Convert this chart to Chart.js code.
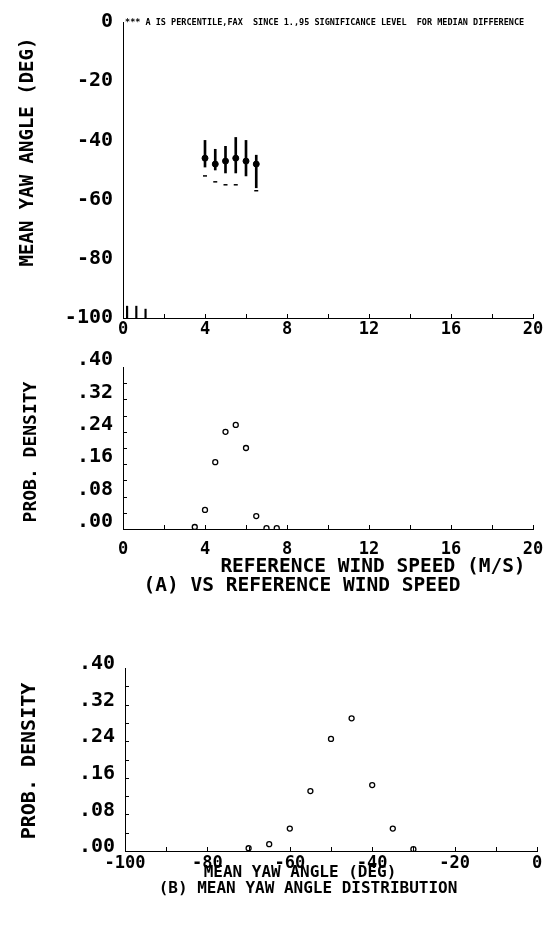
<!DOCTYPE html>
<html><head><meta charset="utf-8">
<script src="https://cdn.jsdelivr.net/npm/chart.js@4/dist/chart.umd.min.js"></script>
<style>
html,body{margin:0;padding:0;background:#fff;}
#wrap{position:relative;width:555px;height:926px;overflow:hidden;background:#fff;}
canvas{position:absolute;left:0;}
.t{position:absolute;white-space:nowrap;color:#000;font-family:'DejaVu Sans Mono',monospace;font-weight:bold;font-size:19.5px;line-height:1;transform:translate(-50%,-50%);}
.r{transform:translate(-50%,-50%) rotate(-90deg);}
</style></head><body>
<div id="wrap">
<canvas id="c1" width="555" height="345" style="top:0"></canvas>
<canvas id="c2" width="555" height="230" style="top:340px"></canvas>
<canvas id="c3" width="555" height="240" style="top:640px"></canvas>
<div class="t r" style="left:26px;top:152px;font-size:19px">MEAN YAW ANGLE (DEG)</div>
<div class="t r" style="left:30px;top:452px;font-size:18px">PROB. DENSITY</div>
<div class="t r" style="left:28px;top:761px;font-size:20px">PROB. DENSITY</div>
<div class="t" style="left:373px;top:566px">REFERENCE WIND SPEED (M/S)</div>
<div class="t" style="left:302px;top:585px">(A) VS REFERENCE WIND SPEED</div>
<div class="t" style="left:300px;top:872px;font-size:16px">MEAN YAW ANGLE (DEG)</div>
<div class="t" style="left:308px;top:888px;font-size:16px">(B) MEAN YAW ANGLE DISTRIBUTION</div>
</div>
<script>
// ---- data ----
const speedBins = [4.0, 4.5, 5.0, 5.5, 6.0, 6.5];
const yawMean   = [-46, -48, -47, -46, -47, -48];
const yawHigh   = [-40, -43, -42, -39, -40, -45];
const yawLow    = [-49, -50, -51, -51, -52, -56];
const yawMin    = [-52, -54, -55, -55, null, -57];
const lowSpeeds = [0.2, 0.65, 1.1];
const lowHigh   = [-96, -96, -97];
const lowLow    = [-100, -100, -100];
const speedDensX = [3.5, 4.0, 4.5, 5.0, 5.5, 6.0, 6.5, 7.0, 7.5];
const speedDens  = [0.005, 0.047, 0.165, 0.24, 0.257, 0.20, 0.032, 0.002, 0.002];
const yawBins = [-70, -65, -60, -55, -50, -45, -40, -35, -30];
const yawDens = [0.006, 0.015, 0.049, 0.131, 0.245, 0.29, 0.144, 0.049, 0.004];
const speedTicks = [0, 4, 8, 12, 16, 20];
const yawTicks = [0, -20, -40, -60, -80, -100];
const densTicks = [0, 0.08, 0.16, 0.24, 0.32, 0.40];
const yawAxisTicks = [-100, -80, -60, -40, -20, 0];
const speedMinor = [2, 4, 6, 8, 10, 12, 14, 16, 18, 20];
const densMinor = [0.04, 0.08, 0.12, 0.16, 0.20, 0.24, 0.28, 0.32, 0.36];
const yawAxisMinor = [-90, -80, -70, -60, -50, -40, -30, -20, -10, 0];
const headerText = "*** A IS PERCENTILE,FAX  SINCE 1.,95 SIGNIFICANCE LEVEL  FOR MEDIAN DIFFERENCE";

const FONT = "'DejaVu Sans Mono',monospace";
Chart.defaults.font.family = FONT;
Chart.defaults.font.weight = 'bold';
Chart.defaults.color = '#000';
Chart.defaults.animation = false;

const innerTicks = {
  id: 'innerTicks',
  afterDraw(chart, args, o) {
    const ctx = chart.ctx, a = chart.chartArea, xs = chart.scales.x, ys = chart.scales.y;
    ctx.save(); ctx.strokeStyle = '#000'; ctx.lineWidth = 1;
    (o.x || []).forEach(v => { const p = Math.round(xs.getPixelForValue(v)) + 0.5;
      ctx.beginPath(); ctx.moveTo(p, a.bottom); ctx.lineTo(p, a.bottom - (o.len || 4)); ctx.stroke(); });
    (o.y || []).forEach(v => { const p = Math.round(ys.getPixelForValue(v)) + 0.5;
      ctx.beginPath(); ctx.moveTo(a.left, p); ctx.lineTo(a.left + (o.len || 4), p); ctx.stroke(); });
    if (o.header) {
      ctx.fillStyle = '#000'; ctx.font = "bold 8.5px 'DejaVu Sans Mono'"; ctx.textBaseline = 'middle';
      const x0 = xs.getPixelForValue(0.1), x1 = xs.getPixelForValue(19.9);
      ctx.fillText(o.header, x0, ys.getPixelForValue(0) + 1, x1 - x0);
    }
    ctx.restore();
  }
};

function axis(min, max, ticks, fit, tickOpts) {
  return {
    type: 'linear', min, max, offset: false,
    afterBuildTicks: s => { s.ticks = ticks.map(v => ({ value: v })); },
    afterFit: s => { if (fit.w !== undefined) s.width = fit.w; if (fit.h !== undefined) s.height = fit.h; },
    grid: { display: true, offset: false, drawOnChartArea: false, drawTicks: false, tickLength: 0 },
    border: { display: true, color: '#000', width: 1, dash: [5, 2] },
    ticks: Object.assign({ font: { size: 20, weight: 'bold' }, color: '#000', padding: 2, autoSkip: false, maxRotation: 0 }, tickOpts || {})
  };
}
function fmtDens(v) { return '.' + String(Math.round(v * 100)).padStart(2, '0'); }

// ---- Chart 1 ----
new Chart(document.getElementById('c1'), {
  type: 'scatter',
  data: { datasets: [
    { type: 'bar', data: speedBins.map((s, i) => ({ x: s, y: [yawLow[i], yawHigh[i]] })),
      backgroundColor: '#000', barThickness: 2, grouped: false },
    { type: 'bar', data: lowSpeeds.map((s, i) => ({ x: s, y: [lowLow[i], lowHigh[i]] })),
      backgroundColor: '#000', barThickness: 1.5, grouped: false },
    { data: speedBins.map((s, i) => ({ x: s, y: yawMean[i] })), pointRadius: 3,
      backgroundColor: '#000', borderColor: '#000' },
    { data: speedBins.map((s, i) => ({ x: s, y: yawMin[i] })), pointStyle: 'line', pointRadius: 2,
      borderColor: '#000', borderWidth: 1.5 }
  ]},
  options: {
    responsive: false, animation: false,
    layout: { padding: { top: 17, right: 22, left: 0, bottom: 0 } },
    plugins: { legend: { display: false }, tooltip: { enabled: false },
      innerTicks: { x: speedMinor, len: 4, header: headerText } },
    scales: {
      x: axis(0, 20, speedTicks, { h: 27 }, { padding: 1, font: { size: 17, weight: 'bold' } }),
      y: axis(-100, 0, yawTicks, { w: 123 }, { padding: 10 })
    }
  },
  plugins: [innerTicks]
});
// ---- Chart 2 ----
new Chart(document.getElementById('c2'), {
  type: 'scatter',
  data: { datasets: [
    { data: speedDensX.map((s, i) => ({ x: s, y: speedDens[i] })), pointRadius: 2.5, borderWidth: 1.3,
      backgroundColor: '#fff', borderColor: '#000' }
  ]},
  options: {
    responsive: false, animation: false,
    layout: { padding: { top: 27, right: 22, left: 0, bottom: 0 } },
    plugins: { legend: { display: false }, tooltip: { enabled: false },
      innerTicks: { x: speedMinor, y: densMinor, len: 4 } },
    scales: {
      x: axis(0, 20, speedTicks, { h: 41 }, { padding: 10, font: { size: 17, weight: 'bold' } }),
      y: axis(0, 0.40, densTicks, { w: 123 }, { padding: 10, labelOffset: -7, callback: fmtDens })
    }
  },
  plugins: [innerTicks]
});
// ---- Chart 3 ----
new Chart(document.getElementById('c3'), {
  type: 'scatter',
  data: { datasets: [
    { data: yawBins.map((s, i) => ({ x: s, y: yawDens[i] })), pointRadius: 2.5, borderWidth: 1.3,
      backgroundColor: '#fff', borderColor: '#000' }
  ]},
  options: {
    responsive: false, animation: false,
    layout: { padding: { top: 28, right: 18, left: 0, bottom: 0 } },
    plugins: { legend: { display: false }, tooltip: { enabled: false },
      innerTicks: { x: yawAxisMinor, y: densMinor, len: 4 } },
    scales: {
      x: axis(-100, 0, yawAxisTicks, { h: 29 }, { padding: 2, font: { size: 17, weight: 'bold' } }),
      y: axis(0, 0.40, densTicks, { w: 125 }, { padding: 10, labelOffset: -4, callback: fmtDens })
    }
  },
  plugins: [innerTicks]
});
</script>
</body></html>
